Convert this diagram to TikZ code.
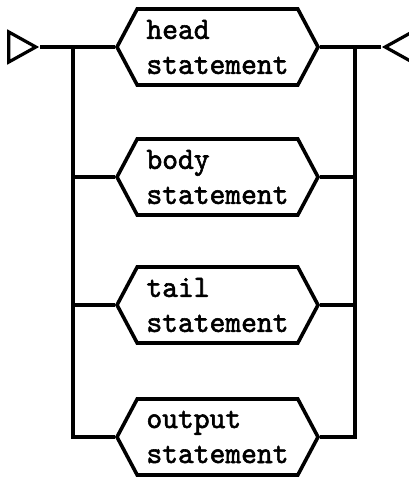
\documentclass[tikz,border=0pt]{standalone}
\usepackage{fontspec}
\newfontfamily\stmtfont{lmmono10-regular.otf}[FakeBold=1.8,FakeStretch=0.97]
\usepackage{tikz}
\usetikzlibrary{shapes.symbols,shapes.geometric}

\begin{document}
\begin{tikzpicture}[
  x=1pt, y=-1pt,
  stmt/.style={signal, signal to=west and east, signal from=nowhere,
               signal pointer angle=124, draw, line width=3.6pt,
               line join=miter, fill=white, inner sep=0pt,
               minimum width=201pt, minimum height=76pt,
               align=left, font=\stmtfont\fontsize{31}{35}\selectfont},
  endmark/.style={isosceles triangle, isosceles triangle stretches,
               draw, line width=3.2pt, fill=white, inner sep=0pt,
               minimum width=30pt, minimum height=27pt},
  wire/.style={line width=3.4pt},
]
  \useasboundingbox (0,0) rectangle (408,479);

  \node (head)   at (217.5, 47)  [stmt] {head\\statement};
  \node (body)   at (217.5, 177) [stmt] {body\\statement};
  \node (tail)   at (217.5, 305) [stmt] {tail\\statement};
  \node (output) at (217.5, 437) [stmt] {output\\statement};

  \node (start) at (40, 47)  [endmark, anchor=apex] {};
  \node (stop)  at (381, 47) [endmark, anchor=apex, shape border rotate=180] {};

  \coordinate (split) at (73, 47);
  \coordinate (join)  at (355, 47);

  \draw[wire] (start.apex) -- (head.west);
  \draw[wire] (head.east) -- (stop.apex);
  \draw[wire] (split) |- (body.west);
  \draw[wire] (split) |- (tail.west);
  \draw[wire] (split) |- (output.west);
  \draw[wire] (body.east) -| (join);
  \draw[wire] (tail.east) -| (join);
  \draw[wire] (output.east) -| (join);
\end{tikzpicture}
\end{document}
